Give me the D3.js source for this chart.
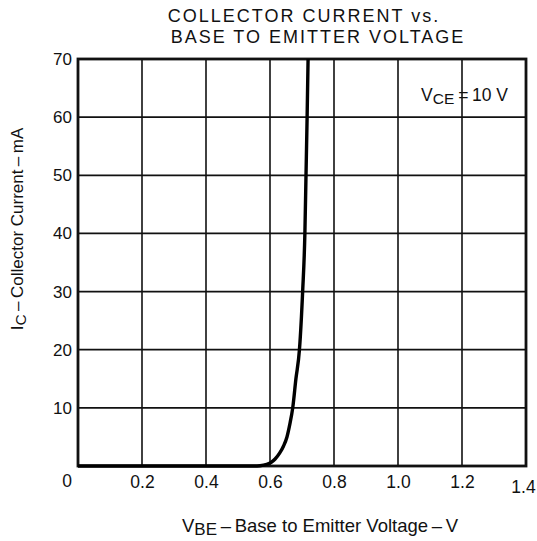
<!DOCTYPE html>
<html><head><meta charset="utf-8">
<script src="https://cdn.jsdelivr.net/npm/d3@7"></script>
<style>body{margin:0;background:#fff}svg{display:block}text{font-family:"Liberation Sans",Arial,sans-serif;fill:#111}</style>
</head><body>
<script>
const titleLines = ["COLLECTOR CURRENT vs.", "BASE TO EMITTER VOLTAGE"];
const xTicks = [0.2, 0.4, 0.6, 0.8, 1.0, 1.2, 1.4];
const xTickLabels = ["0.2", "0.4", "0.6", "0.8", "1.0", "1.2", "1.4"];
const yTicks = [10, 20, 30, 40, 50, 60, 70];
const curveVbe = [0, 0.3, 0.55, 0.569, 0.59, 0.603, 0.616, 0.63, 0.642, 0.653, 0.662, 0.671, 0.681, 0.692, 0.702, 0.709, 0.7125, 0.716, 0.719];
const curveIc  = [0, 0, 0, 0.05, 0.3, 0.6, 1.2, 2.2, 3.4, 5, 7.2, 10, 15, 20, 30, 40, 50, 60, 70];

const W = 537, H = 541;
const svg = d3.select("body").append("svg").attr("width", W).attr("height", H);
const x = d3.scaleLinear().domain([0, 1.4]).range([78, 526]);
const y = d3.scaleLinear().domain([0, 70]).range([466, 59]);

// title
svg.append("text").attr("x", 304).attr("y", 22).attr("text-anchor", "middle")
  .style("font-size", "18px").style("letter-spacing", "2px").text(titleLines[0]);
svg.append("text").attr("x", 318).attr("y", 43).attr("text-anchor", "middle")
  .style("font-size", "18px").style("letter-spacing", "2px").text(titleLines[1]);

// gridlines
const g = svg.append("g");
g.selectAll("line.v").data(xTicks.slice(0, -1)).join("line")
  .attr("x1", d => x(d)).attr("x2", d => x(d)).attr("y1", y(0)).attr("y2", y(70))
  .attr("stroke", "#111").attr("stroke-width", 1.6);
g.selectAll("line.h").data(yTicks.slice(0, -1)).join("line")
  .attr("x1", x(0)).attr("x2", x(1.4)).attr("y1", d => y(d)).attr("y2", d => y(d))
  .attr("stroke", "#111").attr("stroke-width", 1.8);

// frame
g.append("rect").attr("x", x(0)).attr("y", y(70)).attr("width", x(1.4) - x(0)).attr("height", y(0) - y(70))
  .attr("fill", "none").attr("stroke", "#111").attr("stroke-width", 2.8);

// curve
const line = d3.line().x((d, i) => x(curveVbe[i])).y(d => y(d)).curve(d3.curveMonotoneX);
svg.append("path").datum(curveIc).attr("d", line).attr("fill", "none")
  .attr("stroke", "#000").attr("stroke-width", 3.4).attr("stroke-linejoin", "round");

// axes labels via d3 axis
const xAxis = d3.axisBottom(x).tickValues(xTicks).tickSize(0).tickPadding(9)
  .tickFormat((d, i) => xTickLabels[i]);
const xa = svg.append("g").attr("transform", `translate(0,${y(0)})`).call(xAxis);
xa.select(".domain").remove();
xa.selectAll("text").style("font-size", "17.5px").style("font-family", "Liberation Sans, Arial, sans-serif").attr("fill", "#111")
  .attr("dy", (d) => d === 1.4 ? "1.05em" : "0.75em")
  .attr("dx", (d) => d === 1.4 ? -3 : 0);
svg.append("text").attr("x", 67).attr("y", 487).attr("text-anchor", "middle").style("font-size", "17.5px").text("0");

const yAxis = d3.axisLeft(y).tickValues(yTicks).tickSize(0).tickPadding(6);
const ya = svg.append("g").attr("transform", `translate(${x(0)},0)`).call(yAxis);
ya.select(".domain").remove();
ya.selectAll("text").style("font-size", "17px").style("font-family", "Liberation Sans, Arial, sans-serif").attr("fill", "#111");

// legend
const leg = svg.append("text").attr("x", 421).attr("y", 101).style("font-size", "17.5px");
leg.append("tspan").text("V");
leg.append("tspan").attr("dy", 3).style("font-size", "15.5px").text("CE");
leg.append("tspan").attr("dy", -3).attr("dx", 4).text("=\u200910 V");

// x label
const xl = svg.append("text").attr("x", 182).attr("y", 532).style("font-size", "18.5px");
xl.append("tspan").text("V");
xl.append("tspan").attr("dy", 3).style("font-size", "17px").text("BE");
xl.append("tspan").attr("dy", -3).text("\u2009\u2013\u2009Base to Emitter Voltage\u2009\u2013\u2009V");

// y label
const yl = svg.append("text").attr("transform", "translate(23,229) rotate(-90)").attr("text-anchor", "middle").style("font-size", "17px");
yl.append("tspan").text("I");
yl.append("tspan").attr("dy", 3).style("font-size", "15.5px").text("C");
yl.append("tspan").attr("dy", -3).text("\u2009\u2013\u2009Collector Current\u2009\u2013\u2009mA");
</script>
</body></html>
